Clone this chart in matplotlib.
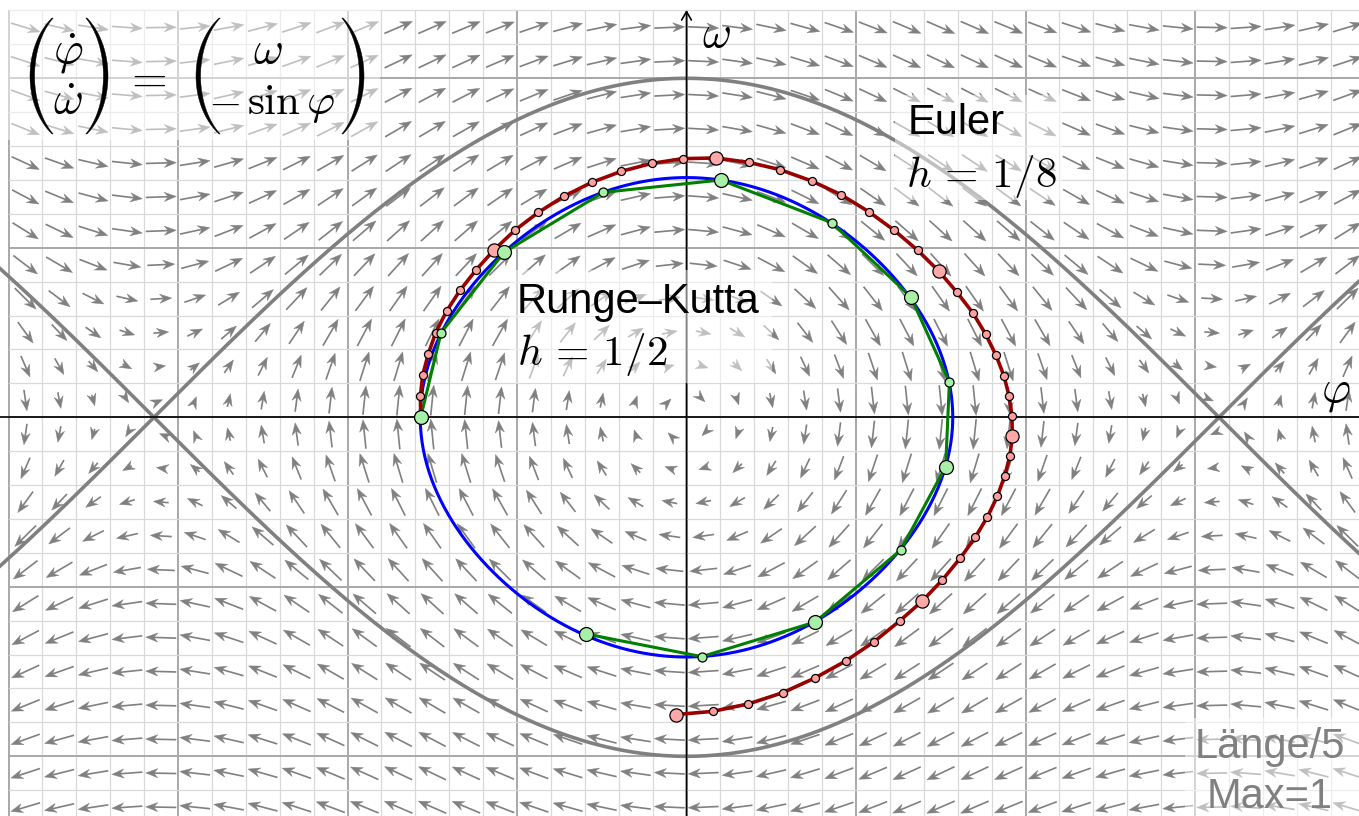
import numpy as np
import matplotlib.pyplot as plt
from matplotlib.collections import LineCollection, PolyCollection
from matplotlib.patches import Rectangle, Polygon

plt.rcParams['mathtext.fontset'] = 'cm'

# Euler-Verfahren, h = 1/8 (Punkte)
euler_phi = [-1.568, -1.570, -1.556, -1.523, -1.480, -1.415, -1.336, -1.242,
             -1.134, -1.013, -0.874, -0.723, -0.559, -0.385, -0.205, -0.021,
             0.174, 0.367, 0.552, 0.739, 0.912, 1.075, 1.226, 1.364,
             1.488, 1.596, 1.690, 1.765, 1.826, 1.873, 1.903, 1.920,
             1.922, 1.908, 1.877, 1.834, 1.775, 1.704, 1.614, 1.509,
             1.391, 1.257, 1.104, 0.939, 0.758, 0.567, 0.365, 0.155, -0.064]
euler_omega = [0.000, 0.126, 0.250, 0.375, 0.499, 0.627, 0.749, 0.869,
               0.989, 1.103, 1.209, 1.304, 1.386, 1.451, 1.498, 1.526,
               1.530, 1.504, 1.461, 1.394, 1.313, 1.213, 1.103, 0.985,
               0.863, 0.737, 0.615, 0.490, 0.366, 0.244, 0.127, 0.008,
               -0.110, -0.228, -0.346, -0.466, -0.588, -0.708, -0.832, -0.960,
               -1.084, -1.202, -1.326, -1.438, -1.538, -1.625, -1.691, -1.735, -1.754]

# Runge-Kutta, h = 1/2
rk_phi = [-1.568, -1.448, -1.077, -0.491, 0.202, 0.857, 1.323,
          1.551, 1.529, 1.264, 0.758, 0.090, -0.593]
rk_omega = [0.000, 0.499, 0.973, 1.327, 1.400, 1.148, 0.711,
            0.208, -0.291, -0.783, -1.208, -1.412, -1.278]

# Mittelpunkte der Pfeile im Richtungsfeld
field_phi = np.arange(-3.9, 3.95, 0.2)
field_omega = np.arange(-2.3, 2.35, 0.2)

# Pixel -> Koordinaten
X0, Y0, S = 686.5, 417.3, 169.5
def px(x, y):
    return (x - X0) / S, (Y0 - y) / S

fig = plt.figure(figsize=(13.59, 8.16), dpi=100)
ax = fig.add_axes([0, 0, 1, 1])
x_lo, y_hi = px(0, 0)
x_hi, y_lo = px(1359, 816)
ax.set_xlim(x_lo, x_hi)
ax.set_ylim(y_lo, y_hi)
ax.axis('off')

# Gitter
for v in np.arange(-4.0, 4.01, 0.2):
    major = abs(v - round(v)) < 1e-6
    ax.plot([v, v], [-2.4, 2.4], color='#a8a8a8' if major else '#d9d9d9',
            lw=1.4 if major else 0.9, zorder=0)
for v in np.arange(-2.4, 2.41, 0.2):
    major = abs(v - round(v)) < 1e-6
    ax.plot([-4.0, 4.0], [v, v], color='#a8a8a8' if major else '#d9d9d9',
            lw=1.4 if major else 0.9, zorder=0)

# Richtungsfeld: Laenge/5, Max=1
P, W = np.meshgrid(field_phi, field_omega)
U, V = W, -np.sin(P)
M = np.hypot(U, V)
L = np.minimum(M, 1) / 5 * 0.9
dx, dy = U / M, V / M
nx, ny = -dy, dx
hl, hw, hn = 12 / S, 4.6 / S, 8 / S
tipx, tipy = P + dx * L / 2, W + dy * L / 2
tailx, taily = P - dx * L / 2, W - dy * L / 2

heads = []
shafts = []
for i in range(P.shape[0]):
    for j in range(P.shape[1]):
        tx, ty = tipx[i, j], tipy[i, j]
        ex, ey = dx[i, j], dy[i, j]
        qx, qy = nx[i, j], ny[i, j]
        heads.append([(tx, ty),
                      (tx - ex * hl + qx * hw, ty - ey * hl + qy * hw),
                      (tx - ex * hn, ty - ey * hn),
                      (tx - ex * hl - qx * hw, ty - ey * hl - qy * hw)])
        if L[i, j] > hn:
            shafts.append([(tailx[i, j], taily[i, j]), (tx - ex * hn, ty - ey * hn)])

ax.add_collection(LineCollection(shafts, colors='#808080', linewidths=1.2, zorder=1))
ax.add_collection(PolyCollection(heads, facecolors='#808080', edgecolors='#808080',
                                 linewidths=0.3, zorder=1))

# Separatrix
ps = np.linspace(x_lo, x_hi, 500)
ax.plot(ps, 2 * np.cos(ps / 2), color='#808080', lw=2.6, zorder=2)
ax.plot(ps, -2 * np.cos(ps / 2), color='#808080', lw=2.6, zorder=2)

# Achsen
ax.plot([x_lo, x_hi], [0, 0], color='black', lw=1.2, zorder=2)
ax.annotate('', xy=(x_hi + 0.01, 0), xytext=(x_hi - 0.1, 0),
            arrowprops=dict(arrowstyle='->,head_length=0.6,head_width=0.35', lw=1.2, color='black'), zorder=2)
ax.annotate('', xy=px(686.5, 10), xytext=(0, y_lo),
            arrowprops=dict(arrowstyle='->,head_length=0.6,head_width=0.35', lw=1.2,
                            color='black', shrinkA=0, shrinkB=0), zorder=2)

# halbtransparente Hintergruende der Texte
for (a, b), (c, d) in [((5, 10), (380, 140)), ((895, 95), (1062, 200)),
                       ((510, 270), (772, 383)), ((1185, 718), (1359, 816))]:
    x1, y1 = px(a, d)
    x2, y2 = px(c, b)
    ax.add_patch(Rectangle((x1, y1), x2 - x1, y2 - y1, facecolor='white',
                           edgecolor='none', alpha=0.5, zorder=3))

# exakte Loesung
psi = np.linspace(0, 2 * np.pi, 600)
ax.plot(-np.arccos(np.sin(psi) ** 2) * np.sign(np.cos(psi)), np.sqrt(2) * np.sin(psi),
        color='#0000ff', lw=2.2, zorder=5)

# Runge-Kutta
ax.plot(rk_phi, rk_omega, color='#008000', lw=2.2, zorder=6)
# Euler
ax.plot(euler_phi, euler_omega, color='#990000', lw=2.6, zorder=7)
ax.plot([p for k, p in enumerate(euler_phi) if k % 8],
        [w for k, w in enumerate(euler_omega) if k % 8], 'o', ms=5.8,
        mfc='#ff9f9f', mec='black', mew=0.9, zorder=8)
ax.plot(euler_phi[::8], euler_omega[::8], 'o', ms=9.5,
        mfc='#ffa8a8', mec='black', mew=0.9, zorder=8)
ax.plot(rk_phi[1::2], rk_omega[1::2], 'o', ms=6.5,
        mfc='#a8f0a8', mec='black', mew=0.9, zorder=9)
ax.plot(rk_phi[::2], rk_omega[::2], 'o', ms=10,
        mfc='#a8f0a8', mec='black', mew=0.9, zorder=9)


# grosse Klammern fuer die Vektoren (in Pixeln)
def paren(xe, yt, yb, bulge, side, tm=4.6, te=1.2):
    th = 0.95
    s = np.linspace(-1, 1, 90)
    f = (np.cos(th * s) - np.cos(th)) / (1 - np.cos(th))
    yy = (yt + yb) / 2 + (yb - yt) / 2 * np.sin(th * s) / np.sin(th)
    xo = xe - side * bulge * f
    xi = xo + side * (te + (tm - te) * f)
    pts = [px(a, b) for a, b in zip(xo, yy)] + [px(a, b) for a, b in zip(xi[::-1], yy[::-1])]
    ax.add_patch(Polygon(pts, closed=True, facecolor='black', edgecolor='black',
                         lw=0.3, zorder=4))

paren(52, 18, 134, 22, 1)
paren(87, 18, 134, 21, -1)
paren(219, 18, 134, 23, 1)
paren(343, 18, 134, 21, -1)
ax.text(*px(68, 63), r'$\dot{\varphi}$', fontsize=33, ha='center', va='baseline', zorder=4)
ax.text(*px(68, 114), r'$\dot{\omega}$', fontsize=33, ha='center', va='baseline', zorder=4)
ax.text(*px(145, 92), r'$=$', fontsize=33, ha='center', va='baseline', zorder=4)
ax.text(*px(268, 63), r'$\omega$', fontsize=33, ha='center', va='baseline', zorder=4)
ax.text(*px(208, 114), r'$-$', fontsize=31, ha='left', va='baseline', zorder=4)
ax.text(*px(335, 114), r'$\sin\varphi$', fontsize=31, ha='right', va='baseline', zorder=4)

# Texte
ax.text(*px(908, 134), 'Euler', fontsize=30, family='Liberation Sans', zorder=4)
ax.text(*px(906, 187), r'$h\,=\,1/8$', fontsize=31, zorder=4)
ax.text(*px(517, 313), 'Runge\u2013Kutta', fontsize=30, family='Liberation Sans', zorder=4)
ax.text(*px(517, 365), r'$h\,=\,1/2$', fontsize=31, zorder=4)
ax.text(*px(716, 35), r'$\omega$', fontsize=32, ha='center', va='center', zorder=4)
ax.text(*px(1336, 392), r'$\varphi$', fontsize=32, ha='center', va='center', zorder=4)
ax.text(*px(1270, 758), 'L\u00e4nge/5', fontsize=30, family='Liberation Sans',
        color='#808080', ha='center', zorder=4)
ax.text(*px(1270, 808), 'Max=1', fontsize=30, family='Liberation Sans',
        color='#808080', ha='center', zorder=4)

plt.savefig('out.png', dpi=100)
